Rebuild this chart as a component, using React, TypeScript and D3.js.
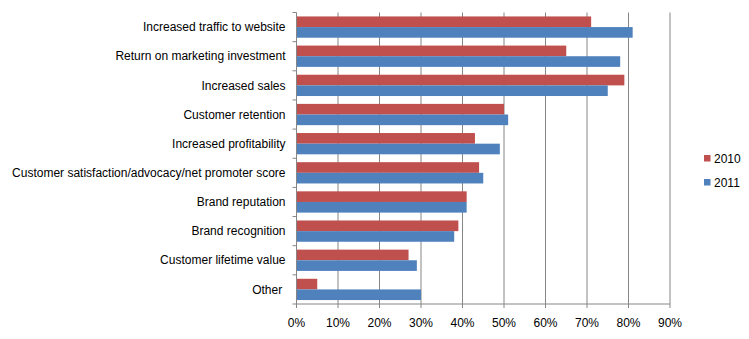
import React from "react";
import * as d3 from "d3";

const categories = [
  "Increased traffic to website",
  "Return on marketing investment",
  "Increased sales",
  "Customer retention",
  "Increased profitability",
  "Customer satisfaction/advocacy/net promoter score",
  "Brand reputation",
  "Brand recognition",
  "Customer lifetime value",
  "Other\u00a0",
];
const values2010 = [71, 65, 79, 50, 43, 44, 41, 39, 27, 5];
const values2011 = [81, 78, 75, 51, 49, 45, 41, 38, 29, 30];
const seriesNames = ["2010", "2011"];
const xTicks = [0, 10, 20, 30, 40, 50, 60, 70, 80, 90];

const W = 749;
const H = 339;
const left = 296.5;
const right = 670;
const top = 12.5;
const bottom = 304;
const colors = ["#C0504D", "#4F81BD"];
const font = "'Liberation Sans', Arial, sans-serif";

export default function App() {
  const x = d3.scaleLinear().domain([0, 90]).range([left, right]);
  const y = d3.scaleBand().domain(categories).range([top, bottom]).paddingInner(0).paddingOuter(0);
  const inner = d3.scaleBand().domain(seriesNames).range([0, y.bandwidth()]).paddingOuter(0.37).paddingInner(0);
  const series = [values2010, values2011];
  const bw = y.bandwidth();

  return (
    <svg width={W} height={H} style={{ position: "absolute", left: 0, top: 0, background: "#fff" }}>
      {xTicks.slice(1).map((t) => (
        <line key={"g" + t} x1={x(t)} x2={x(t)} y1={top} y2={bottom + 4} stroke="#868686" strokeWidth={1} />
      ))}
      {categories.map((c, i) =>
        series.map((s, j) => (
          <rect
            key={c + j}
            x={x(0)}
            y={(y(c) as number) + (inner(seriesNames[j]) as number)}
            width={x(s[i]) - x(0)}
            height={inner.bandwidth()}
            fill={colors[j]}
          />
        ))
      )}
      <line x1={left} x2={left} y1={top} y2={bottom} stroke="#868686" />
      {d3.range(categories.length + 1).map((k) => (
        <line key={"yt" + k} x1={left - 4} x2={left} y1={top + k * bw} y2={top + k * bw} stroke="#868686" />
      ))}
      <line x1={left} x2={right} y1={bottom} y2={bottom} stroke="#868686" />
      <line x1={left} x2={left} y1={bottom} y2={bottom + 4} stroke="#868686" />
      {xTicks.map((t) => (
        <text key={"xl" + t} x={x(t)} y={bottom + 23} textAnchor="middle" fontFamily={font} fontSize={12} fill="#000">
          {t + "%"}
        </text>
      ))}
      {categories.map((c) => (
        <text
          key={"yl" + c}
          x={left - 11}
          y={(y(c) as number) + bw / 2}
          dy="0.35em"
          textAnchor="end"
          fontFamily={font}
          fontSize={12}
          fill="#000"
          style={{ whiteSpace: "pre" }}
        >
          {c}
        </text>
      ))}
      {seriesNames.map((n, j) => (
        <g key={"lg" + n} transform={`translate(704, ${155 + j * 24})`}>
          <rect x={0} y={0} width={6.5} height={6.5} fill={colors[j]} />
          <text x={10} y={3.5} dy="0.35em" fontFamily={font} fontSize={12} fill="#000">
            {n}
          </text>
        </g>
      ))}
    </svg>
  );
}
